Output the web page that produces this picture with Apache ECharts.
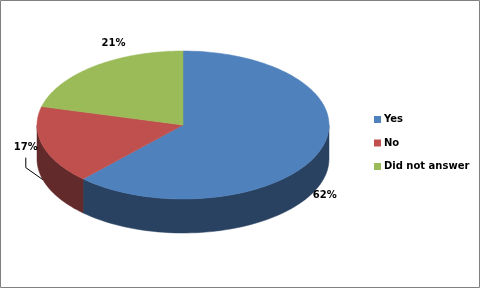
<!DOCTYPE html>
<html><head><meta charset="utf-8">
<script src="https://cdn.jsdelivr.net/npm/echarts@6/dist/echarts.min.js"></script>
<style>html,body{margin:0;padding:0;background:#fff}#c{width:481px;height:289px}</style>
</head><body><div id="c"></div>
<script>
const categories = ['Yes', 'No', 'Did not answer'];
const values = [62, 17, 21];
const valueLabels = ['62%', '17%', '21%'];

// style / layout config
const topColors = ['#4F81BD', '#C0504D', '#9BBB59'];
const sideColors = ['#2A4262', '#622A2A', '#4F6230'];
const cx = 183, cy = 125, rx = 146, ry = 74, depth = 34;
const labelOffset = [[6, 9], [-17, -32], [20, -23]];
const leader = [false, true, false];
const FONT = 'DejaVu Sans';

const total = values.reduce((a, b) => a + b, 0);
const starts = [];
let acc = 0;
values.forEach(v => { starts.push(acc); acc += v; });

function pt(a, dy) { return [cx + rx * Math.sin(a), cy - ry * Math.cos(a) + (dy || 0)]; }
function arc(a0, a1, dy, n) {
  const out = [];
  for (let k = 0; k <= n; k++) out.push(pt(a0 + (a1 - a0) * k / n, dy));
  return out;
}

function makeRender(i) {
  return function (params, api) {
    const v = api.value(0);
    const a0 = starts[i] / total * 2 * Math.PI;
    const a1 = a0 + v / total * 2 * Math.PI;
    const children = [];
    // side wall (front half only: angles between PI/2 and 3PI/2)
    const s = Math.max(a0, Math.PI / 2), e = Math.min(a1, 3 * Math.PI / 2);
    if (e > s) {
      const topArc = arc(s, e, 0, 60);
      const botArc = arc(e, s, depth, 60);
      children.push({ type: 'polygon', shape: { points: topArc.concat(botArc) },
        style: { fill: sideColors[i], stroke: sideColors[i], lineWidth: 0.5 } });
    }
    const topPts = [[cx, cy]].concat(arc(a0, a1, 0, 120));
    children.push({ type: 'polygon', shape: { points: topPts },
      style: { fill: topColors[i], stroke: topColors[i], lineWidth: 0.5 } });
    // label
    const am = (a0 + a1) / 2;
    const front = Math.cos(am) < 0;
    const anchor = pt(am, front ? depth : 0);
    const lx = anchor[0] + labelOffset[i][0], ly = anchor[1] + labelOffset[i][1];
    if (leader[i]) {
      children.push({ type: 'polyline', shape: { points: [[lx, ly + 10], [lx, ly + 20], anchor] },
        style: { stroke: '#000', lineWidth: 1, fill: null } });
    }
    children.push({ type: 'text', x: lx, y: ly,
      style: { text: valueLabels[i], fill: '#000', font: 'bold 10px ' + FONT, align: 'center', verticalAlign: 'middle' } });
    return { type: 'group', children: children };
  };
}

const chart = echarts.init(document.getElementById('c'), null, { renderer: 'canvas' });
chart.setOption({
  animation: false,
  color: topColors,
  legend: {
    orient: 'vertical', left: 374, top: 113.5, padding: 0,
    itemWidth: 7, itemHeight: 7, itemGap: 11.5, icon: 'rect',
    data: categories,
    textStyle: { fontFamily: FONT, fontWeight: 'bold', fontSize: 10, color: '#000', lineHeight: 12, padding: [0, 0, 0, -2] }
  },
  graphic: [{ type: 'rect', shape: { x: 0.5, y: 0.5, width: 479, height: 287 },
    style: { fill: 'none', stroke: '#808080', lineWidth: 1 }, z: 100 }],
  series: categories.map((name, i) => ({
    type: 'custom', name: name, coordinateSystem: 'none',
    data: [[values[i]]],
    renderItem: makeRender(i)
  }))
});
</script></body></html>
